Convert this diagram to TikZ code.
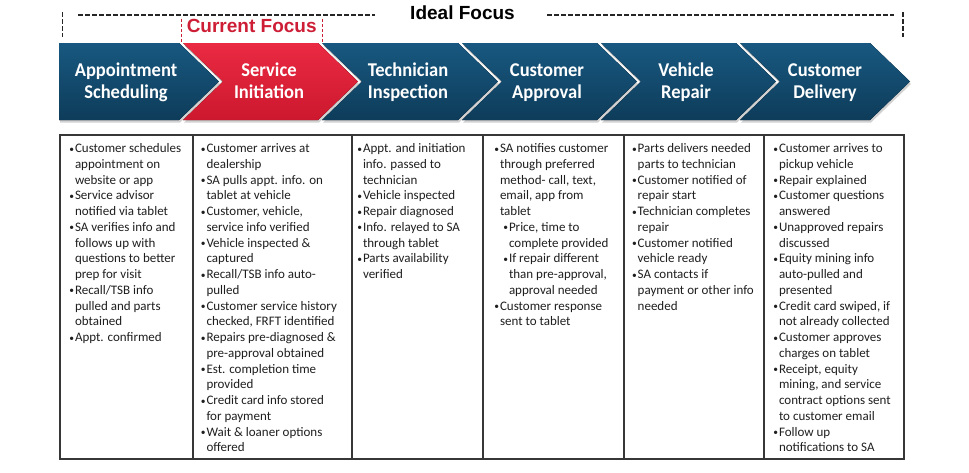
\documentclass[tikz,border=0pt]{standalone}
\usepackage{fontspec}
\setmainfont{Carlito}
\newfontfamily\headfont[FakeStretch=0.95]{Carlito}
\newfontfamily\arialfont{Liberation Sans}
\definecolor{chevtop}{RGB}{24,88,128}
\definecolor{chevmid}{RGB}{29,99,141}
\definecolor{chevbot}{RGB}{14,60,90}
\definecolor{redtop}{RGB}{234,42,66}
\definecolor{redmid}{RGB}{226,32,58}
\definecolor{redbot}{RGB}{204,24,46}
\definecolor{focusred}{RGB}{206,30,54}
\definecolor{tabline}{RGB}{55,55,55}
\newcommand\bitem{\makebox[4.8pt][l]{\kern-0.8pt\raisebox{0.6pt}{\fontsize{9.5}{9.5}\selectfont •}}}
\newcommand\bcont{\hspace*{4.8pt}}
\newcommand\bsubsp{\hspace*{9pt}}
\begin{document}
\begin{tikzpicture}[x=1pt,y=-1pt,
  bluechev/.style={top color=chevtop, middle color=chevmid, bottom color=chevbot},
  redchev/.style={top color=redtop, middle color=redmid, bottom color=redbot},
  chevshadow/.style={fill=black, opacity=0.18},
  headtxt/.style={font=\headfont\bfseries\fontsize{19.5}{22.5}\selectfont, text=white, align=center, inner sep=0pt, anchor=north},
  bodytxt/.style={font=\fontsize{13}{15.75}\selectfont, text=black!88, align=left, inner sep=0pt, anchor=north west},
  idealdash/.style={dash pattern=on 4.5pt off 2.5pt, line width=1.8pt, black!85},
  reddash/.style={dash pattern=on 3pt off 2pt, line width=1pt, focusred},
  tableline/.style={line width=1.3pt, tabline},
  tableouter/.style={line width=1.6pt, tabline},
  titletxt/.style={font=\arialfont\bfseries\fontsize{19}{22}\selectfont, inner sep=0pt, anchor=base}
]
\useasboundingbox (0,0) rectangle (969,472);
\fill[white] (0,0) rectangle (969,472);

% ideal focus bracket
\node[titletxt, text=black] (ideal) at (462.5,19.3) {Ideal Focus};
\draw[idealdash] (62.5,12) -- (62.5,37);
\draw[idealdash] (78,15) -- (375,15);
\draw[idealdash] (547,15) -- (894,15);
\draw[idealdash] (903,12) -- (903,37);

% current focus bracket
\node[titletxt, text=focusred] (current) at (251.7,32.7) {Current Focus};
\draw[reddash] (181.5,19) -- (181.5,43);
\draw[reddash] (322,19) -- (322,43);

% shadows
\begin{scope}[shift={(1,2.5)}]
\fill[chevshadow] (59,43) -- (179,43) -- (219,81.5) -- (179,120) -- (59,120) -- cycle;
\foreach \L/\R in {183/318,322/458,462/597,601/736,740/870}{
  \fill[chevshadow] (\L,43) -- (\R,43) -- (\R+40,81.5) -- (\R,120) -- (\L,120) -- (\L+40,81.5) -- cycle;}
\end{scope}

% chevrons
\fill[bluechev] (59,43) -- (179,43) -- (219,81.5) -- (179,120) -- (59,120) -- cycle;
\fill[redchev] (183,43) -- (318,43) -- (358,81.5) -- (318,120) -- (183,120) -- (223,81.5) -- cycle;
\foreach \L/\R in {322/458,462/597,601/736,740/870}{
  \fill[bluechev] (\L,43) -- (\R,43) -- (\R+40,81.5) -- (\R,120) -- (\L,120) -- (\L+40,81.5) -- cycle;}

\node[headtxt] (h1) at (126,60.25) {\strut Appointment\\Scheduling\strut};
\node[headtxt] (h2) at (269,60.25) {\strut Service\\Initiation\strut};
\node[headtxt] (h3) at (408,60.25) {\strut Technician\\Inspection\strut};
\node[headtxt] (h4) at (547,60.25) {\strut Customer\\Approval\strut};
\node[headtxt] (h5) at (686,60.25) {\strut Vehicle\\Repair\strut};
\node[headtxt] (h6) at (825,60.25) {\strut Customer\\Delivery\strut};

% table
\foreach \x in {193,352,483,624,764}{\draw[tableline] (\x,135) -- (\x,459);}
\draw[tableouter] (60,135) rectangle (904,459);

\node[bodytxt] (c1) at (70,141.5) {\strut\bitem Customer schedules\\
\bcont appointment on\\
\bcont website or app\\
\bitem Service advisor\\
\bcont notified via tablet\\
\bitem SA verifies info and\\
\bcont follows up with\\
\bcont questions to better\\
\bcont prep for visit\\
\bitem Recall/TSB info\\
\bcont pulled and parts\\
\bcont obtained\\
\bitem Appt. confirmed};

\node[bodytxt] (c2) at (201.5,141.5) {\strut\bitem Customer arrives at\\
\bcont dealership\\
\bitem SA pulls appt. info. on\\
\bcont tablet at vehicle\\
\bitem Customer, vehicle,\\
\bcont service info verified\\
\bitem Vehicle inspected \&\\
\bcont captured\\
\bitem Recall/TSB info auto-\\
\bcont pulled\\
\bitem Customer service history\\
\bcont checked, FRFT identified\\
\bitem Repairs pre-diagnosed \&\\
\bcont pre-approval obtained\\
\bitem Est. completion time\\
\bcont provided\\
\bitem Credit card info stored\\
\bcont for payment\\
\bitem Wait \& loaner options\\
\bcont offered};

\node[bodytxt] (c3) at (358,141.5) {\strut\bitem Appt. and initiation\\
\bcont info. passed to\\
\bcont technician\\
\bitem Vehicle inspected\\
\bitem Repair diagnosed\\
\bitem Info. relayed to SA\\
\bcont through tablet\\
\bitem Parts availability\\
\bcont verified};

\node[bodytxt] (c4) at (495,141.5) {\strut\bitem SA notifies customer\\
\bcont through preferred\\
\bcont method- call, text,\\
\bcont email, app from\\
\bcont tablet\\
\bsubsp\bitem Price, time to\\
\bsubsp\bcont complete provided\\
\bsubsp\bitem If repair different\\
\bsubsp\bcont than pre-approval,\\
\bsubsp\bcont approval needed\\
\bitem Customer response\\
\bcont sent to tablet};

\node[bodytxt] (c5) at (632.7,141.5) {\strut\bitem Parts delivers needed\\
\bcont parts to technician\\
\bitem Customer notified of\\
\bcont repair start\\
\bitem Technician completes\\
\bcont repair\\
\bitem Customer notified\\
\bcont vehicle ready\\
\bitem SA contacts if\\
\bcont payment or other info\\
\bcont needed};

\node[bodytxt] (c6) at (774,141.5) {\strut\bitem Customer arrives to\\
\bcont pickup vehicle\\
\bitem Repair explained\\
\bitem Customer questions\\
\bcont answered\\
\bitem Unapproved repairs\\
\bcont discussed\\
\bitem Equity mining info\\
\bcont auto-pulled and\\
\bcont presented\\
\bitem Credit card swiped, if\\
\bcont not already collected\\
\bitem Customer approves\\
\bcont charges on tablet\\
\bitem Receipt, equity\\
\bcont mining, and service\\
\bcont contract options sent\\
\bcont to customer email\\
\bitem Follow up\\
\bcont notifications to SA};
\end{tikzpicture}
\end{document}
